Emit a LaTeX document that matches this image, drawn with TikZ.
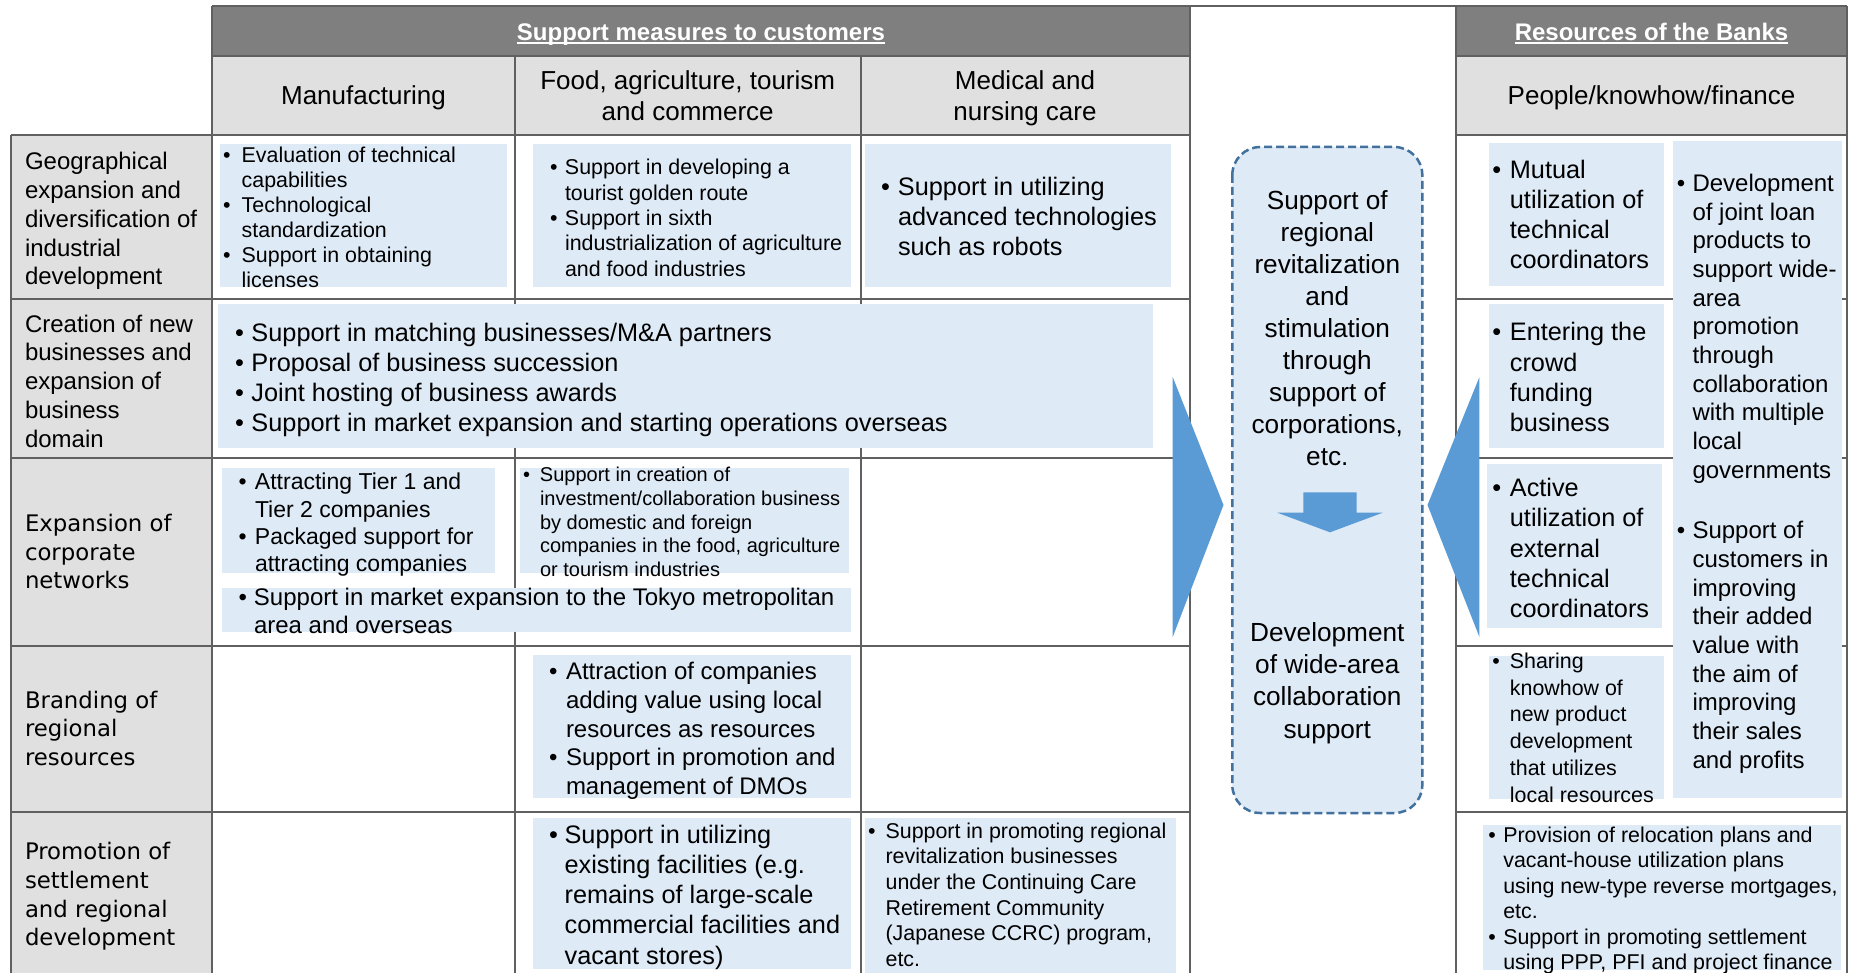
\documentclass[tikz,border=0pt]{standalone}
\usepackage{fontspec}
\setmainfont{Liberation Sans}
\newfontfamily\dvs{DejaVu Sans}
\definecolor{hdr}{HTML}{7F7F7F}
\definecolor{subc}{HTML}{E0E0E0}
\definecolor{gridc}{HTML}{606060}
\definecolor{boxc}{HTML}{DEEAF6}
\definecolor{arrc}{HTML}{5B9BD5}
\definecolor{dashc}{HTML}{41719C}
\newcommand{\fsz}[2]{\fontsize{#1}{#2}\selectfont}
\newcommand{\topr}{\rule{0pt}{21.5pt}}
\newcommand{\bul}[1]{\makebox[#1pt][l]{\textbullet}}
\newcommand{\bin}[1]{\hspace*{#1pt}}
\begin{document}
\begin{tikzpicture}[x=1pt,y=-1pt,
  gridline/.style={draw=gridc, line width=2pt},
  bbox/.style={fill=boxc},
  tx/.style={inner sep=0pt, outer sep=0pt, anchor=north west, align=left},
  ctx/.style={inner sep=0pt, outer sep=0pt, anchor=north, align=center},
  hd/.style={inner sep=0pt, outer sep=0pt, anchor=base, text=white, font=\bfseries\fsz{24}{28}},
  bigarrow/.style={fill=arrc}]
\useasboundingbox[fill=white] (0,0) rectangle (1854,973);
% header fills
\fill[hdr] (212,5.7) rectangle (1190,56);
\fill[hdr] (1456,5.7) rectangle (1847,56);
\fill[subc] (212,56) rectangle (1190,135);
\fill[subc] (1456,56) rectangle (1847,135);
\fill[subc] (10.7,135) rectangle (212,973);
% grid
\draw[gridline] (212,5.7) -- (1847,5.7);
\draw[gridline] (212,56) -- (1190,56) (1456,56) -- (1847,56);
\draw[gridline] (10.7,135) -- (1190,135) (1456,135) -- (1847,135);
\foreach \yy in {299,458,646,812}{
  \draw[gridline] (10.7,\yy) -- (1190,\yy) (1456,\yy) -- (1847,\yy);
}
\draw[gridline] (10.7,135) -- (10.7,973);
\draw[gridline] (212,5.7) -- (212,973);
\draw[gridline] (515,56) -- (515,973);
\draw[gridline] (860.5,56) -- (860.5,973);
\draw[gridline] (1190,5.7) -- (1190,973);
\draw[gridline] (1456,5.7) -- (1456,973);
\draw[gridline] (1847,5.7) -- (1847,973);
% blue boxes
\fill[bbox] (220,144) rectangle (507,287);
\fill[bbox] (533,144) rectangle (851,287);
\fill[bbox] (865,144) rectangle (1170.8,287);
\fill[bbox] (218,304) rectangle (1153.2,448);
\fill[bbox] (222,468) rectangle (495,573);
\fill[bbox] (520,468) rectangle (849,573);
\fill[bbox] (222,588) rectangle (851,632);
\fill[bbox] (533,655) rectangle (851,798);
\fill[bbox] (533,818) rectangle (851,969);
\fill[bbox] (865,818) rectangle (1175.7,973);
\fill[bbox] (1489,143) rectangle (1663.8,286);
\fill[bbox] (1489,304) rectangle (1663.8,448);
\fill[bbox] (1487.3,464) rectangle (1662,628);
\fill[bbox] (1489,656) rectangle (1663.8,799);
\fill[bbox] (1673,141) rectangle (1841.6,798);
\fill[bbox] (1483,825) rectangle (1841,969.5);
% big arrows
\fill[bigarrow] (1172.7,377) -- (1223.5,505) -- (1172.7,637) -- cycle;
\fill[bigarrow] (1479.4,377) -- (1427.5,505) -- (1479.4,637) -- cycle;
% centre dashed box
\draw[dashc, fill=boxc, line width=2.5pt, dash pattern=on 8pt off 4pt, rounded corners=28pt] (1232.3,147) rectangle (1422.3,813);
\fill[arrc] (1303.3,492.3) -- (1356.7,492.3) -- (1356.7,512.7) -- (1382.7,512.7) -- (1330,532.3) -- (1277.3,512.7) -- (1303.3,512.7) -- cycle;
% headers
\node[hd] (h1) at (701,40.5) {Support measures to customers};
\draw[white, line width=1.6pt] ([yshift=-2.8pt]h1.base west) -- ([yshift=-2.8pt]h1.base east);
\node[hd] (h2) at (1651.5,40.5) {Resources of the Banks};
\draw[white, line width=1.6pt] ([yshift=-2.8pt]h2.base west) -- ([yshift=-2.8pt]h2.base east);
\node[inner sep=0pt, anchor=base, font=\fsz{26}{31}] (c1) at (363.5,104.8) {Manufacturing};
\node[ctx, font=\fsz{26}{31}] (c2) at (687.7,68.3) {\topr Food, agriculture, tourism\\and commerce};
\node[ctx, font=\fsz{26}{31}] (c3) at (1025,68.3) {\topr Medical and\\nursing care};
\node[inner sep=0pt, anchor=base, font=\fsz{26}{31}] (c4) at (1651.5,104.8) {People/knowhow/finance};
% row labels
\node[tx, font=\fsz{24}{28.75}] (l1) at (25,148.3) {\topr Geographical\\expansion and\\diversification of\\industrial\\development};
\node[tx, font=\fsz{24}{28.75}] (l2) at (25,310.7) {\topr Creation of new\\businesses and\\expansion of\\business\\domain};
\node[tx, font=\dvs\fsz{22.8}{28.7}] (l3) at (25,510) {\topr Expansion of\\corporate\\networks};
\node[tx, font=\dvs\fsz{22.8}{28.7}] (l4) at (25,686.7) {\topr Branding of\\regional\\resources};
\node[tx, font=\dvs\fsz{22.8}{28.7}] (l5) at (25,838.3) {\topr Promotion of\\settlement\\and regional\\development};
% row 1
\node[tx, font=\fsz{21.4}{25}] (t1a) at (223,141.2) {\topr\bul{18.7}Evaluation of technical\\\bin{18.7}capabilities\\\bul{18.7}Technological\\\bin{18.7}standardization\\\bul{18.7}Support in obtaining\\\bin{18.7}licenses};
\node[tx, font=\fsz{21.4}{25.4}] (t1b) at (550,153.3) {\topr\bul{15}Support in developing a\\\bin{15}tourist golden route\\\bul{15}Support in sixth\\\bin{15}industrialization of agriculture\\\bin{15}and food industries};
\node[tx, font=\fsz{25.3}{30}] (t1c) at (881,174) {\topr\bul{17}Support in utilizing\\\bin{17}advanced technologies\\\bin{17}such as robots};
% row 2
\node[tx, font=\fsz{25.3}{30.2}] (t2) at (235,319.5) {\topr\bul{16.5}Support in matching businesses/M\&A partners\\\bul{16.5}Proposal of business succession\\\bul{16.5}Joint hosting of business awards\\\bul{16.5}Support in market expansion and starting operations overseas};
% row 3
\node[tx, font=\fsz{23}{27.2}] (t3a) at (238.6,468.3) {\topr\bul{16.4}Attracting Tier 1 and\\\bin{16.4}Tier 2 companies\\\bul{16.4}Packaged support for\\\bin{16.4}attracting companies};
\node[tx, font=\fsz{20}{23.8}] (t3b) at (523,460) {\topr\bul{17}Support in creation of\\\bin{17}investment/collaboration business\\\bin{17}by domestic and foreign\\\bin{17}companies in the food, agriculture\\\bin{17}or tourism industries};
\node[tx, font=\fsz{24}{27.7}] (t3c) at (238.6,584) {\topr\bul{15.4}Support in market expansion to the Tokyo metropolitan\\\bin{15.4}area and overseas};
% row 4
\node[tx, font=\fsz{24}{28.7}] (t4) at (549,658.3) {\topr\bul{17}Attraction of companies\\\bin{17}adding value using local\\\bin{17}resources as resources\\\bul{17}Support in promotion and\\\bin{17}management of DMOs};
% row 5
\node[tx, font=\fsz{25.3}{30.2}] (t5a) at (549,821.7) {\topr\bul{15.6}Support in utilizing\\\bin{15.6}existing facilities (e.g.\\\bin{15.6}remains of large-scale\\\bin{15.6}commercial facilities and\\\bin{15.6}vacant stores)};
\node[tx, font=\fsz{21.4}{25.6}] (t5b) at (868,816.7) {\topr\bul{17.6}Support in promoting regional\\\bin{17.6}revitalization businesses\\\bin{17.6}under the Continuing Care\\\bin{17.6}Retirement Community\\\bin{17.6}(Japanese CCRC) program,\\\bin{17.6}etc.};
% right column
\node[tx, font=\fsz{25.3}{30}] (r1) at (1492.4,156.7) {\topr\bul{17.5}Mutual\\\bin{17.5}utilization of\\\bin{17.5}technical\\\bin{17.5}coordinators};
\node[tx, font=\fsz{25.3}{30.2}] (r2) at (1492.4,319.3) {\topr\bul{17.5}Entering the\\\bin{17.5}crowd\\\bin{17.5}funding\\\bin{17.5}business};
\node[tx, font=\fsz{25.3}{30.3}] (r3) at (1492.4,475) {\topr\bul{17.5}Active\\\bin{17.5}utilization of\\\bin{17.5}external\\\bin{17.5}technical\\\bin{17.5}coordinators};
\node[tx, font=\fsz{21.4}{26.8}] (r4) at (1492.4,646.7) {\topr\bul{17.5}Sharing\\\bin{17.5}knowhow of\\\bin{17.5}new product\\\bin{17.5}development\\\bin{17.5}that utilizes\\\bin{17.5}local resources};
\node[tx, font=\fsz{24}{28.67}] (rt1) at (1676.8,170) {\topr\bul{15.7}Development\\\bin{15.7}of joint loan\\\bin{15.7}products to\\\bin{15.7}support wide-\\\bin{15.7}area\\\bin{15.7}promotion\\\bin{15.7}through\\\bin{15.7}collaboration\\\bin{15.7}with multiple\\\bin{15.7}local\\\bin{15.7}governments};
\node[tx, font=\fsz{24}{28.67}] (rt2) at (1676.8,517.3) {\topr\bul{15.7}Support of\\\bin{15.7}customers in\\\bin{15.7}improving\\\bin{15.7}their added\\\bin{15.7}value with\\\bin{15.7}the aim of\\\bin{15.7}improving\\\bin{15.7}their sales\\\bin{15.7}and profits};
\node[tx, font=\fsz{21.4}{25.5}] (r5) at (1488.3,820.7) {\topr\bul{15}Provision of relocation plans and\\\bin{15}vacant-house utilization plans\\\bin{15}using new-type reverse mortgages,\\\bin{15}etc.\\\bul{15}Support in promoting settlement\\\bin{15}using PPP, PFI and project finance};
% centre texts
\node[ctx, font=\fsz{26.2}{32}] (m1) at (1327.3,188.3) {\topr Support of\\regional\\revitalization\\and\\stimulation\\through\\support of\\corporations,\\etc.};
\node[ctx, font=\fsz{26.2}{32.2}] (m2) at (1327.3,620) {\topr Development\\of wide-area\\collaboration\\support};
\end{tikzpicture}
\end{document}
